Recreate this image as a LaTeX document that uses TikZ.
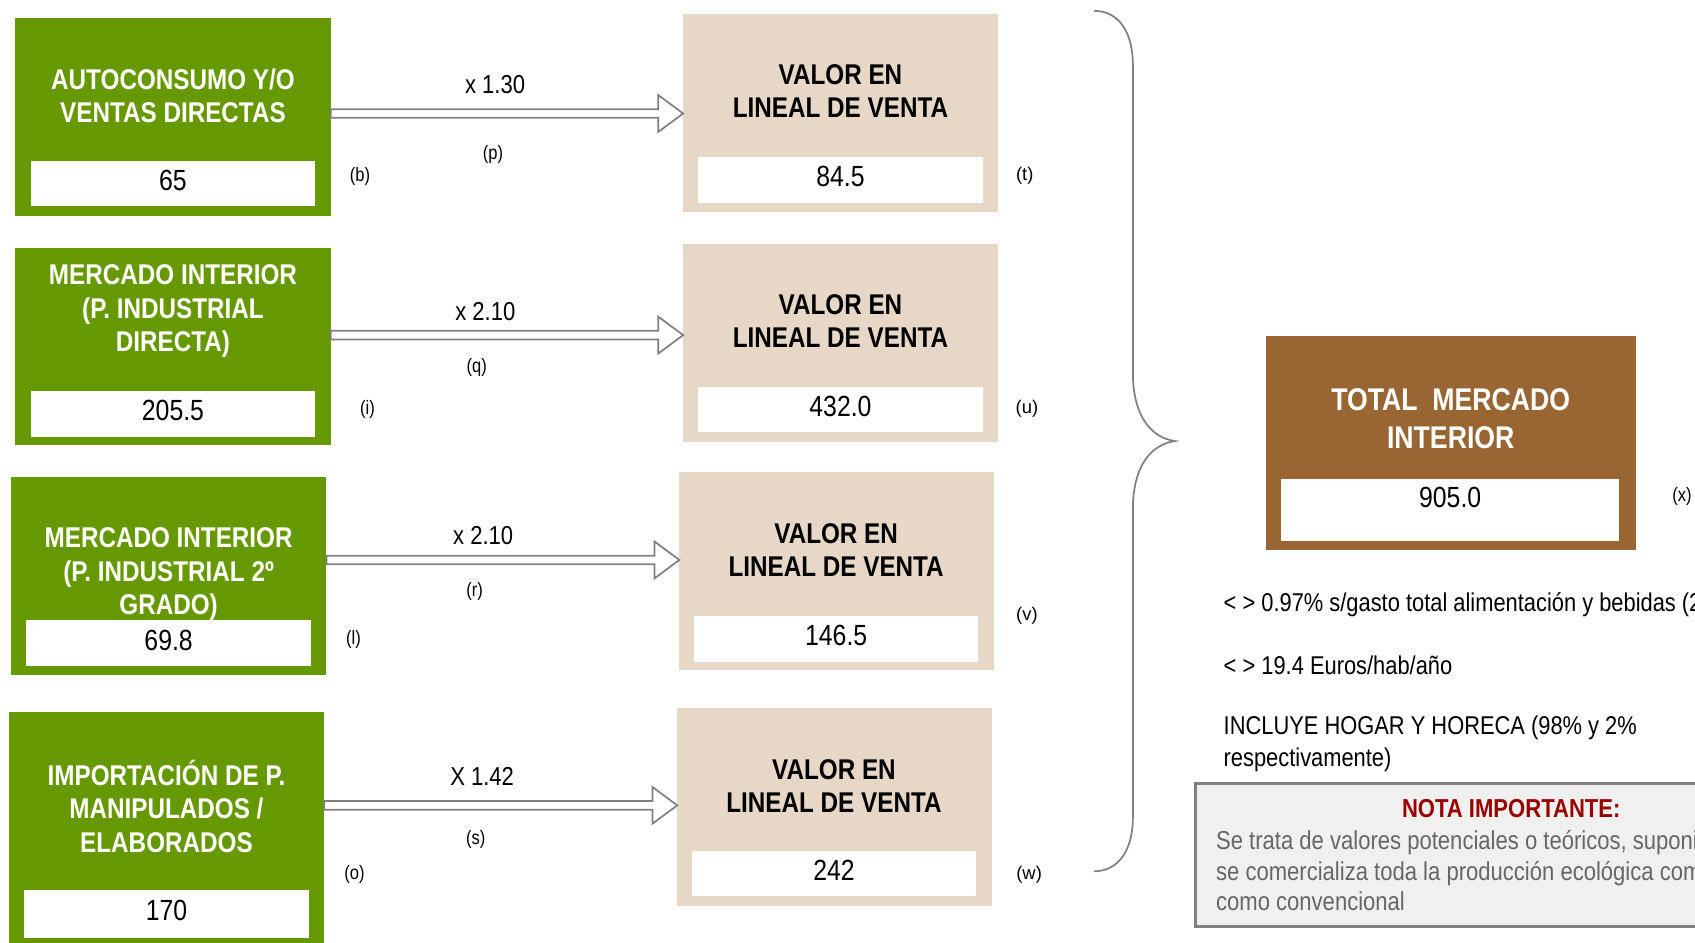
\documentclass[tikz,border=0pt]{standalone}
\usepackage{fontspec}
\setmainfont{Liberation Sans}[FakeStretch=0.85]
\newfontfamily\widefont{Liberation Sans}
\usetikzlibrary{calc}
\definecolor{verde}{HTML}{669900}
\definecolor{crema}{HTML}{E6D7C7}
\definecolor{marron}{HTML}{996633}
\definecolor{rojonota}{HTML}{990000}
\definecolor{gristexto}{HTML}{666666}
\definecolor{grisfondo}{HTML}{F0F0F0}
\definecolor{grislinea}{HTML}{808080}

\begin{document}
\begin{tikzpicture}[x=0.5pt,y=-0.5pt]
        \tikzstyle{every node}=[inner sep=0pt, outer sep=0pt]
        \tikzstyle{origen}=[fill=verde, minimum width=146pt, minimum height=91.5pt]
        \tikzstyle{lineal}=[fill=crema, minimum width=145.5pt, minimum height=91.5pt]
        \tikzstyle{valor}=[fill=white, minimum width=131.5pt, minimum height=21pt, text depth=3pt, font=\fontsize{13.5}{13.5}\selectfont]
        \tikzstyle{titulo}=[align=center, font=\bfseries\fontsize{13.2}{15.5}\selectfont]
        \tikzstyle{letra}=[font=\fontsize{9}{9}\selectfont]
        \tikzstyle{factor}=[font=\fontsize{12}{12}\selectfont]
        \tikzstyle{flecha}=[draw=grislinea, fill=white, line width=0.8pt]
        \tikzstyle{comentario}=[anchor=west, align=left, font=\fontsize{11.9}{14.5}\selectfont]
        \useasboundingbox (0,0) rectangle (1568,872);
        \clip (0,0) rectangle (1568,872);
        % origen del valor
        \node[origen] (g1) at (160,108.5) {};
        \node[origen] (g2) at (160,320.5) {};
        \node[origen] (g3) at (156,533) {};
        \node[origen, minimum height=110pt, anchor=north] (g4) at (154,659) {};
        \node[titulo, text=white] (g1t) at (160,88.5) {AUTOCONSUMO Y/O\\VENTAS DIRECTAS};
        \node[titulo, text=white] (g2t) at (160,288) {MERCADO INTERIOR\\(P. INDUSTRIAL\\DIRECTA)};
        \node[titulo, text=white] (g3t) at (156,531) {MERCADO INTERIOR\\(P. INDUSTRIAL 2º\\GRADO)};
        \node[titulo, text=white] (g4t) at (154,746) {IMPORTACIÓN DE P.\\MANIPULADOS /\\ELABORADOS};
        \node[valor] (g1v) at (160,169.5) {65};
        \node[valor] (g2v) at (160,383) {205.5};
        \node[valor] (g3v) at (156,595) {69.8};
        \node[valor, minimum height=22.5pt] (g4v) at (154,845.5) {170};
        % valor en lineal de venta
        \node[lineal] (b1) at (777.5,104.5) {};
        \node[lineal] (b2) at (777.5,317.5) {};
        \node[lineal] (b3) at (774,528.5) {};
        \node[lineal] (b4) at (772,746.5) {};
        \foreach \i/\x/\y in {1/777.5/84, 2/777.5/297, 3/773.5/509, 4/771.5/727}
            \node[titulo] (b\i t) at (\x,\y) {VALOR EN\\LINEAL DE VENTA};
        \node[valor] (b1v) at (777.5,166.5) {84.5};
        \node[valor] (b2v) at (777.5,379) {432.0};
        \node[valor] (b3v) at (773.5,591) {146.5};
        \node[valor] (b4v) at (771.5,808) {242};
        % flechas
        \foreach \i/\y in {1/105, 2/310, 3/518, 4/745} {
            \coordinate (a\i) at (g\i.east |- 0,\y);
            \coordinate (p\i) at (b\i.west |- 0,\y);
            \draw[flecha] ($(a\i)+(0,-4)$) -- ($(p\i)+(-23,-4)$) -- ($(p\i)+(-23,-17)$) -- (p\i) -- ($(p\i)+(-23,17)$) -- ($(p\i)+(-23,4)$) -- ($(a\i)+(0,4)$) -- cycle;
        }
        \node[factor] (f1) at (458,78) {x 1.30};
        \node[factor] (f2) at (449,288) {x 2.10};
        \node[factor] (f3) at (447,495) {x 2.10};
        \node[factor] (f4) at (446,718) {X 1.42};
        \node[letra] (lp) at (456,143) {(p)};
        \node[letra] (lq) at (441,340) {(q)};
        \node[letra] (lr) at (439,547) {(r)};
        \node[letra] (ls) at (440,777) {(s)};
        \node[letra] (lb) at (333,163) {(b)};
        \node[letra] (li) at (340,379) {(i)};
        \node[letra] (ll) at (327,592) {(l)};
        \node[letra] (lo) at (328,809) {(o)};
        \node[letra, font=\widefont\fontsize{8.5}{8.5}\selectfont] (lt) at (948,163) {(t)};
        \node[letra, font=\widefont\fontsize{8.5}{8.5}\selectfont] (lu) at (950,378) {(u)};
        \node[letra, font=\widefont\fontsize{8.5}{8.5}\selectfont] (lv) at (950,570) {(v)};
        \node[letra, font=\widefont\fontsize{8.5}{8.5}\selectfont] (lw) at (952,809) {(w)};
        % llave
        \draw[grislinea, line width=0.8pt] (1012,10) .. controls (1035,10) and (1048,30) .. (1048,60) -- (1048,345)
            .. controls (1048,385) and (1065,405) .. (1087,408) .. controls (1065,411) and (1048,431) .. (1048,471)
            -- (1048,756) .. controls (1048,786) and (1035,806) .. (1012,806);
        % total
        \node[fill=marron, minimum width=171pt, minimum height=99pt] (tot) at (1342,410) {};
        \node[titulo, text=white, font=\bfseries\fontsize{14.5}{17.5}\selectfont] (tott) at (1342,387) {TOTAL\ \ MERCADO\\INTERIOR};
        \node[valor, minimum width=156.5pt, minimum height=28.5pt] (totv) at (1341.5,471.5) {};
        \node[font=\fontsize{13.5}{13.5}\selectfont] (totn) at (1341.5,460) {905.0};
        \node[letra] (lx) at (1556,459) {(x)};
        \node[comentario] (c1) at (1132,559) {< > 0.97\% s/gasto total alimentación y bebidas (2};
        \node[comentario] (c2) at (1132,615) {< > 19.4 Euros/hab/año};
        \node[comentario] (c3) at (1132,688) {INCLUYE HOGAR Y HORECA (98\% y 2\%\\respectivamente)};
        % nota
        \draw[fill=grisfondo, draw=grislinea, line width=1.2pt] (1106,725) rectangle (1620,857);
        \node[font=\bfseries\fontsize{12}{12}\selectfont, text=rojonota] (nt) at (1398,748) {NOTA IMPORTANTE:};
        \node[comentario, text=gristexto, font=\fontsize{12}{14.25}\selectfont] (nb) at (1125,805.5) {Se trata de valores potenciales o teóricos, suponi\\se comercializa toda la producción ecológica com\\como convencional};
\end{tikzpicture}
\end{document}
